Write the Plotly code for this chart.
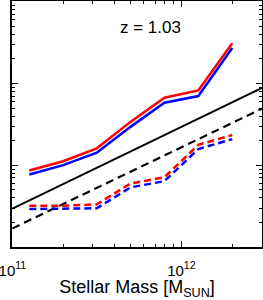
import numpy as np
import plotly.graph_objects as go

# Data
mass = [1.26e11, 2.0e11, 3.16e11, 5.0e11, 7.94e11, 1.26e12, 2.0e12]
red_solid = [10**9.936, 10**10.049, 10**10.207, 10**10.531, 10**10.826, 10**10.916, 10**11.494]
blue_solid = [10**9.887, 10**10.002, 10**10.154, 10**10.470, 10**10.766, 10**10.847, 10**11.434]
red_dashed = [10**9.504, 10**9.504, 10**9.522, 10**9.777, 10**9.854, 10**10.250, 10**10.370]
blue_dashed = [10**9.465, 10**9.465, 10**9.474, 10**9.729, 10**9.806, 10**10.199, 10**10.320]
line_mass = [1e11, 3e12]
black_solid = [10**9.470, 10**10.947]
black_dashed = [10**9.227, 10**10.693]

x_tickvals = [1e11, 1e12]
x_ticktext = ["10<sup>11</sup>", "10<sup>12</sup>"]
title_text = "z = 1.03"
x_title = "Stellar Mass [M<sub>SUN</sub>]"

fig = go.Figure()
fig.add_trace(go.Scatter(x=line_mass, y=black_solid, mode="lines",
                         line=dict(color="black", width=2)))
fig.add_trace(go.Scatter(x=line_mass, y=black_dashed, mode="lines",
                         line=dict(color="black", width=2.2, dash="8px,5px")))
fig.add_trace(go.Scatter(x=mass, y=red_solid, mode="lines",
                         line=dict(color="#ff0000", width=2.5)))
fig.add_trace(go.Scatter(x=mass, y=blue_solid, mode="lines",
                         line=dict(color="#0000ff", width=2.5)))
fig.add_trace(go.Scatter(x=mass, y=red_dashed, mode="lines",
                         line=dict(color="#ff0000", width=2.5, dash="7px,4px")))
fig.add_trace(go.Scatter(x=mass, y=blue_dashed, mode="lines",
                         line=dict(color="#0000ff", width=2.5, dash="7px,4px")))

minor_x = [m * 10**e for e in (11, 12) for m in range(2, 10)]
minor_y = [m * 10**e for e in (9, 10, 11) for m in range(2, 10)]

fig.update_layout(
    width=263, height=300,
    margin=dict(l=12, r=1, t=1, b=53, autoexpand=False),
    plot_bgcolor="white", paper_bgcolor="white",
    showlegend=False,
    font=dict(family="Liberation Sans, Arial, sans-serif", color="black"),
    annotations=[dict(text=title_text, x=0.555, y=0.894, xref="paper", yref="paper",
                      xanchor="center", yanchor="middle",
                      showarrow=False, font=dict(size=17, color="black"))],
)
fig.update_xaxes(
    type="log", range=[10.998, np.log10(3e12)], automargin=False,
    tickmode="array", tickvals=x_tickvals, ticktext=x_ticktext,
    ticks="inside", ticklen=6, tickwidth=1, tickcolor="black",
    showline=True, linecolor="black", linewidth=1.5, mirror="ticks",
    showgrid=False, zeroline=False, ticklabeloverflow="allow",
    tickfont=dict(size=15), ticklabelstandoff=9,
    minor=dict(tickmode="array", tickvals=minor_x, ticks="inside", ticklen=3,
               tickcolor="black", tickwidth=1, showgrid=False),
    title=dict(text=x_title, font=dict(size=18), standoff=5),
)
fig.update_yaxes(
    type="log", range=[9, 12.01], automargin=False,
    tickmode="array", tickvals=[1e9, 1e10, 1e11, 1e12],
    ticks="inside", ticklen=6, tickwidth=1, tickcolor="black",
    showticklabels=False,
    showline=True, linecolor="black", linewidth=1.5, mirror="ticks",
    showgrid=False, zeroline=False,
    minor=dict(tickmode="array", tickvals=minor_y, ticks="inside", ticklen=3,
               tickcolor="black", tickwidth=1, showgrid=False),
)

fig.write_html("out.html", config={"displayModeBar": False},
               post_script="document.body.style.margin='0';")
